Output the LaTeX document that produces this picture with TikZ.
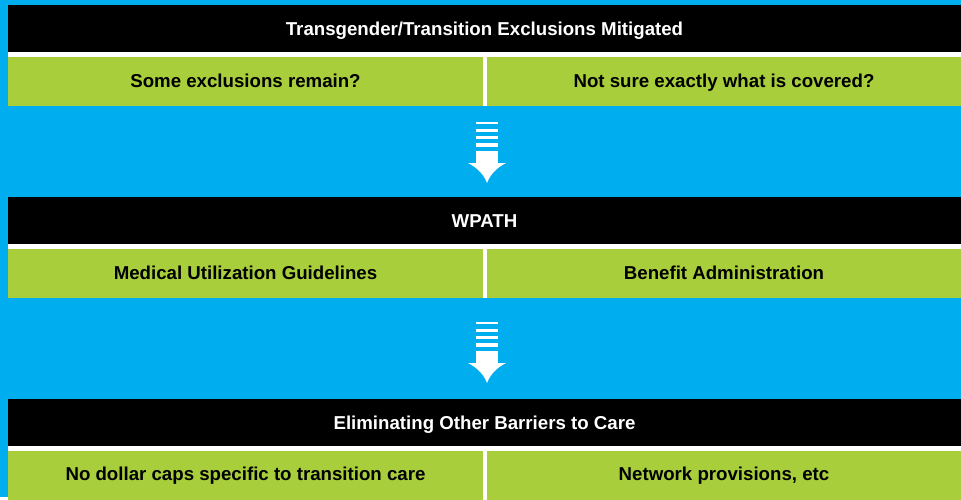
\documentclass[tikz,border=0pt]{standalone}
\usepackage{fontspec}
\setmainfont{Liberation Sans}
\definecolor{skyblue}{HTML}{00ADEF}
\definecolor{leafgreen}{HTML}{A8CE3B}
\tikzset{
  bartext/.style={text=white,inner sep=0pt,anchor=base,font=\bfseries\fontsize{14}{16}\selectfont},
  celltext/.style={text=black,inner sep=0pt,anchor=base,font=\bfseries\fontsize{14}{16}\selectfont},
}
% one band: black title bar over two green cells
\newcommand{\band}[1]{%
  \fill [black] (8,#1) rectangle (961,#1+47);
  \fill [white] (8,#1+47) rectangle (961,#1+101);
  \fill [leafgreen] (8,#1+52) rectangle (483,#1+101);
  \fill [leafgreen] (487,#1+52) rectangle (961,#1+101);
}
% striped down arrow
\newcommand{\downicon}[1]{%
  \begin{scope}[shift={(487,#1)}]
    \fill [white] (-11,0) rectangle (11,2);
    \fill [white] (-11,7) rectangle (11,10);
    \fill [white] (-11,14) rectangle (11,17);
    \fill [white] (-11,21) rectangle (11,25);
    \fill [white] (-11,29) rectangle (11,41);
    \fill [white] (-19,41) -- (19,41) .. controls (9,46) and (3,53) .. (0,61)
      .. controls (-3,53) and (-9,46) .. (-19,41) -- cycle;
  \end{scope}
}
\begin{document}
\begin{tikzpicture}[x=0.75pt,y=-0.75pt]
  \fill [skyblue] (0,0) rectangle (961,497);
  \band{5}
  \band{197}
  \band{399}
  \downicon{122}
  \downicon{322}
  \node [bartext] (exclusions) at (484.5,35) {Transgender/Transition Exclusions Mitigated};
  \node [celltext] (remain) at (245.5,87) {Some exclusions remain?};
  \node [celltext] (covered) at (724,87) {Not sure exactly what is covered?};
  \node [bartext] (wpath) at (484.5,227) {WPATH};
  \node [celltext] (guidelines) at (245.5,279) {Medical Utilization Guidelines};
  \node [celltext] (benefit) at (724,279) {Benefit Administration};
  \node [bartext] (barriers) at (484.5,429) {Eliminating Other Barriers to Care};
  \node [celltext] (caps) at (245.5,480) {No dollar caps specific to transition care};
  \node [celltext] (network) at (724,480) {Network provisions, etc};
\end{tikzpicture}
\end{document}
